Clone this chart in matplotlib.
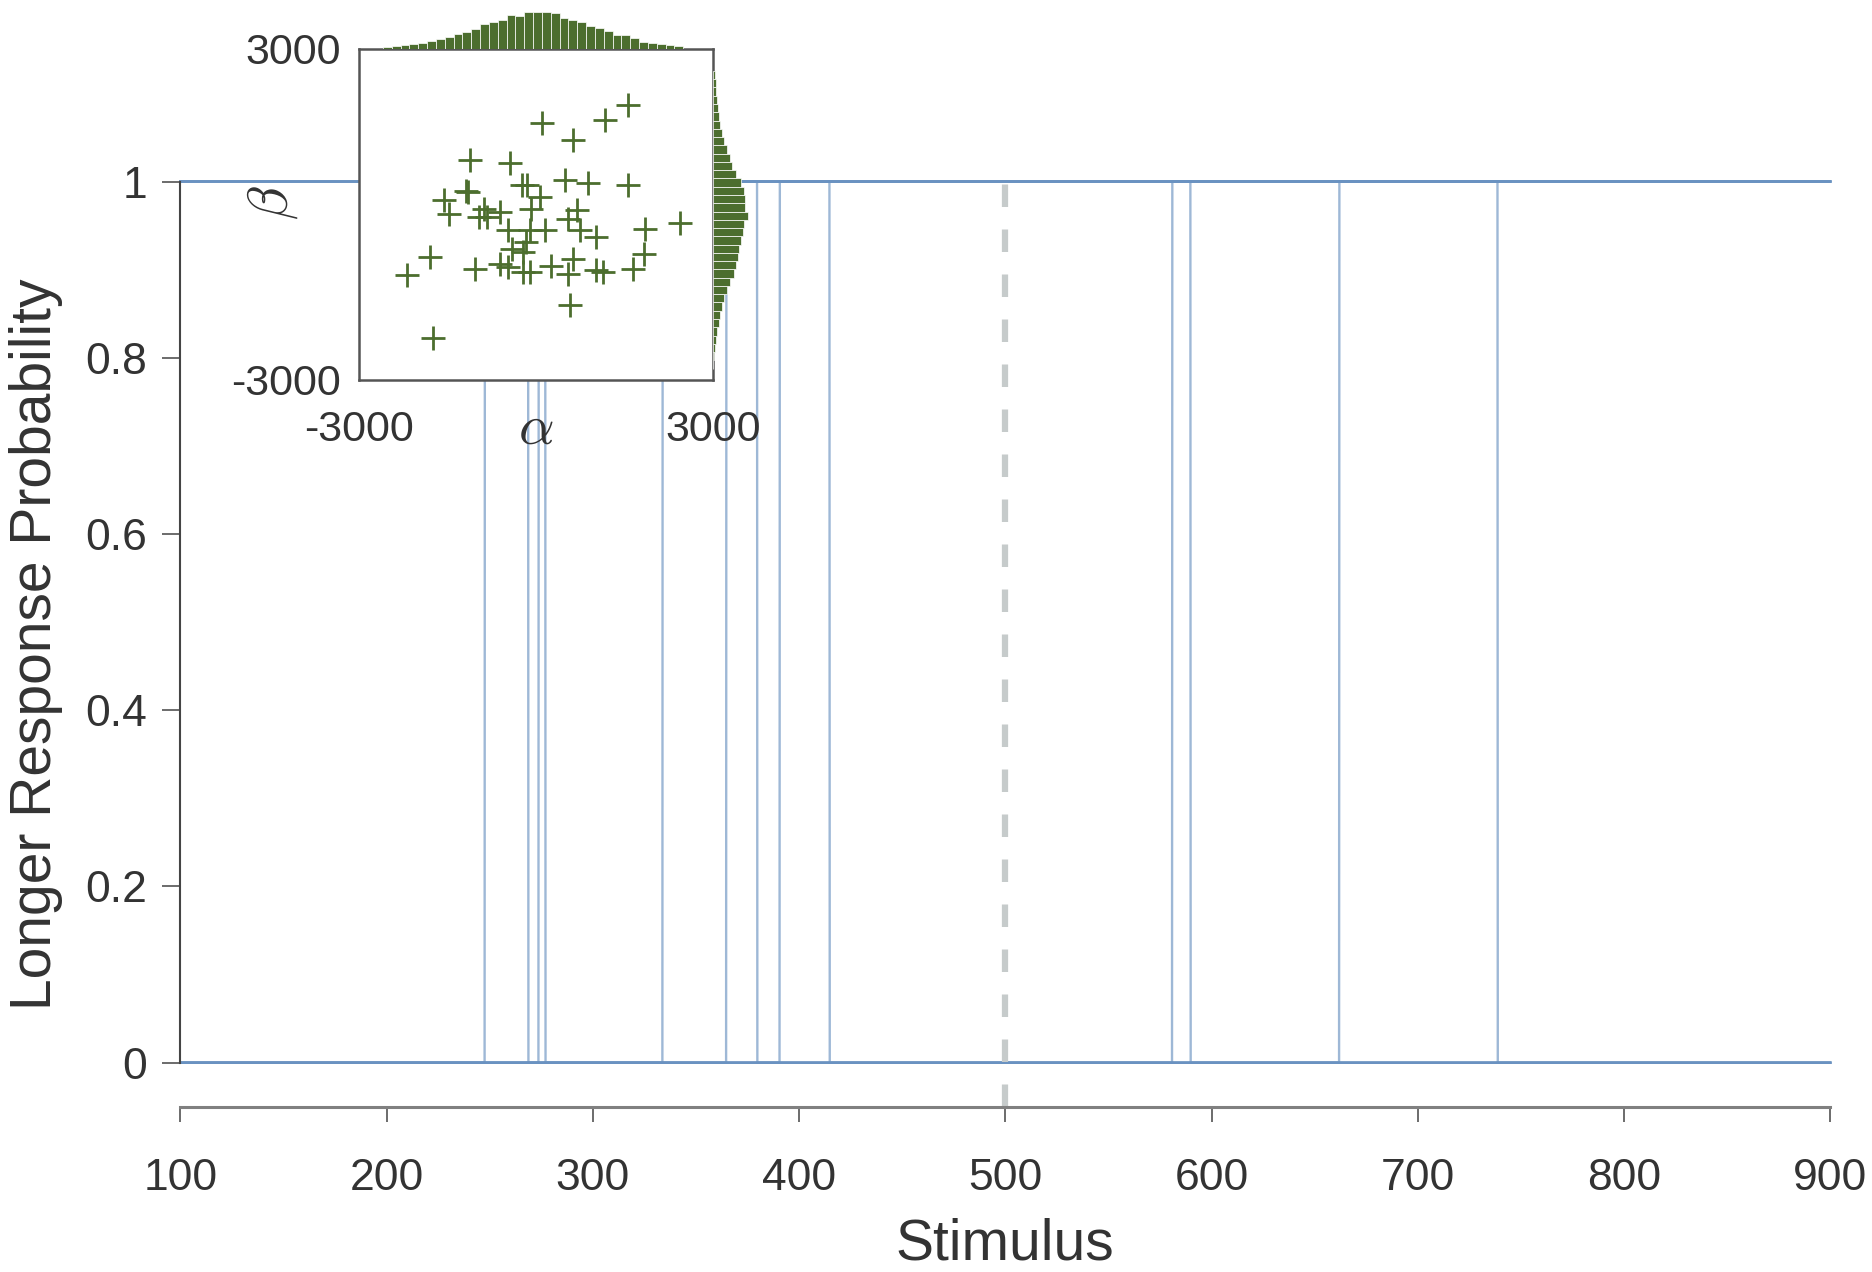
import numpy as np
import matplotlib
matplotlib.use('Agg')
import matplotlib.pyplot as plt

plt.rcParams['font.family'] = ['Liberation Sans', 'DejaVu Sans']
plt.rcParams['mathtext.fontset'] = 'cm'

# step positions (stimulus value where each sampled curve jumps) and direction
thresholds = [247.6, 268.7, 273.7, 277.0, 333.8, 364.7, 379.7, 390.6, 414.8,
              580.9, 589.8, 661.9, 738.7]
directions = [1, -1, 1, -1, 1, 1, -1, 1, -1, 1, -1, 1, -1]
criterion = 500

# posterior samples shown in the inset
alpha_s = [1558, 1171, 98, 634, -1123, -438, 485, 885, 1558, -241, -152, -1183,
           -1153, -1570, 68, -885, -617, -81, -1481, -974, -825, 694, 545, 2452,
           1856, -468, -110, 158, 753, 1022, -170, -408, -229, -1808, 1826, 634,
           -617, -1034, -468, 247, 545, -229, -110, 1022, 1141, 1647, -2196, 575,
           -1749]
beta_s = [1985, 1713, 1659, 1351, 988, 934, 613, 571, 535, 523, 523, 420,
          402, 251, 311, 100, 40, 100, 9, -51, -51, 82, -81, -160,
          -263, -293, -293, -293, -293, -414, -504, -625, -686, -776, -716, -806,
          -897, -988, -958, -945, -1078, -1048, -1048, -1018, -1048, -988, -1096, -1652,
          -2238]

# marginal histograms (relative counts)
alpha_bins = np.arange(-2600, 2500, 150)
alpha_counts = [5, 7, 10, 15, 18, 23, 28, 33, 42, 47, 57, 72, 77, 83, 98, 95, 105,
                105, 105, 103, 88, 83, 78, 65, 60, 50, 40, 40, 30, 20, 17, 15, 10, 7]
beta_bins = np.arange(-2800, 2600, 150)
beta_counts = [7, 9, 10, 12, 14, 17, 22, 27, 34, 42, 50, 57, 67, 82, 89, 94, 92, 102,
               90, 87, 82, 77, 74, 67, 60, 50, 42, 34, 27, 20, 17, 12, 10, 7, 5, 2][::-1]

txt = '#333333'
green = '#4c6e2e'
blue = '#6a92c1'

fig = plt.figure(figsize=(18.72, 12.72), dpi=100)
ax = fig.add_axes([0.0963, 0.1299, 0.8814, 0.7274])

x = np.linspace(100, 900, 16001)
for t, d in zip(thresholds, directions):
    y = 1 / (1 + np.exp(-200 * d * (x - t)))
    ax.plot(x, y, color=blue, alpha=0.65, lw=1.7, clip_on=False)

ax.vlines(criterion, -0.05, 1, color='#c6cbcb', lw=4.5, linestyles=(0, (3.6, 3.6)))

ax.set_xlim(100, 900)
ax.set_ylim(-0.05, 1)
ax.set_xticks(range(100, 901, 100))
ax.set_yticks([0, 0.2, 0.4, 0.6, 0.8, 1])
ax.set_yticklabels(['0', '0.2', '0.4', '0.6', '0.8', '1'])
ax.spines['top'].set_visible(False)
ax.spines['right'].set_visible(False)
ax.spines['left'].set_bounds(0, 1)
ax.spines['left'].set_color('#444444')
ax.spines['left'].set_linewidth(1.5)
ax.spines['bottom'].set_color('#808080')
ax.spines['bottom'].set_linewidth(2.2)
ax.tick_params(axis='y', length=13, width=1.1, color='#444444', pad=11,
               labelsize=32, labelcolor=txt)
ax.tick_params(axis='x', length=11, width=1.1, color='#444444', pad=26,
               labelsize=32, labelcolor=txt)
ax.set_xlabel('Stimulus', fontsize=41, color=txt, labelpad=13)
ax.set_ylabel('Longer Response Probability', fontsize=41, color=txt, labelpad=16)

# inset: joint samples with marginals
l, b, w, h = 0.1920, 0.7015, 0.1887, 0.2601
ins = fig.add_axes([l, b, w, h])
ins.scatter(alpha_s, beta_s, marker='+', s=280, color=green, linewidths=2.0, zorder=3)
ins.set_xlim(-3000, 3000)
ins.set_ylim(-3000, 3000)
ins.set_xticks([-3000, 3000])
ins.set_yticks([-3000, 3000])
ins.set_xticklabels(['-3000', '3000'])
ins.set_yticklabels(['-3000', '3000'])
ins.tick_params(length=0, labelsize=31, labelcolor=txt)
ins.tick_params(axis='x', pad=22)
ins.tick_params(axis='y', pad=13)
for s in ins.spines.values():
    s.set_color('#555555')
    s.set_linewidth(1.8)
ins.set_xlabel(r'$\alpha$', fontsize=40, color=txt)
ins.xaxis.set_label_coords(0.5, -0.15)
ins.xaxis.label.set_va('center')
ins.set_ylabel(r'$\beta$', fontsize=40, color=txt)
ins.yaxis.set_label_coords(-0.247, 0.535)
ins.yaxis.label.set_va('center')

top = fig.add_axes([l, b + h, w, 40 / 1272])
top.bar(alpha_bins, alpha_counts, width=150, align='edge', color=green,
        edgecolor='white', linewidth=0.5)
top.set_xlim(-3000, 3000)
top.set_ylim(0, 115)
top.axis('off')

side = fig.add_axes([l + w, b, 40 / 1872, h])
side.barh(beta_bins, beta_counts, height=150, align='edge', color=green,
          edgecolor='white', linewidth=0.5)
side.set_ylim(-3000, 3000)
side.set_xlim(0, 115)
side.axis('off')

fig.savefig('out.png', dpi=100)
